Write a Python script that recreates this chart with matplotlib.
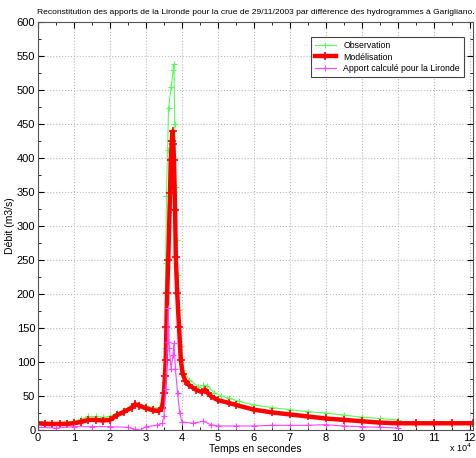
# coding=utf-8
import numpy as np
import matplotlib
matplotlib.use('Agg')
import matplotlib.pyplot as plt
from matplotlib.ticker import MultipleLocator

plt.rcParams['font.family'] = ['Liberation Sans', 'DejaVu Sans']

# temps en 1e4 secondes, debits en m3/s
t_obs = [0, 0.2, 0.4, 0.6, 0.8, 1.0, 1.2, 1.4, 1.6, 1.8, 2.0, 2.2, 2.4, 2.6, 2.7, 2.8,
         3.0, 3.2, 3.35, 3.45, 3.5, 3.53, 3.55, 3.57, 3.6, 3.63, 3.7, 3.76, 3.78, 3.8,
         3.83, 3.85, 3.88, 3.92, 3.97, 4.03, 4.2, 4.45, 4.6, 4.7, 4.9, 5.1, 5.3, 5.6,
         6.0, 6.5, 7.0, 7.5, 8.0, 8.5, 9.0, 9.5, 10.0]
q_obs = [12, 12, 11, 11, 12, 13, 16, 20, 20, 19, 20, 25, 30, 35, 40, 38,
         35, 33, 32, 40, 70, 120, 246, 344, 412, 474, 505, 530, 538, 450,
         358, 280, 228, 176, 123, 88, 74, 64, 66, 65, 55, 50, 47, 42,
         37, 33, 30, 27, 25, 22, 19, 17, 15]

t_mod = [0, 0.2, 0.4, 0.6, 0.8, 1.0, 1.2, 1.4, 1.6, 1.8, 2.0, 2.2, 2.4, 2.6, 2.7, 2.8,
         3.0, 3.2, 3.35, 3.45, 3.5, 3.53, 3.55, 3.57, 3.59, 3.62, 3.67, 3.69, 3.72, 3.74,
         3.76, 3.78, 3.81, 3.83, 3.87, 3.92, 3.97, 4.02, 4.1, 4.2, 4.4, 4.55, 4.65, 4.8,
         5.0, 5.3, 5.5, 6.0, 6.5, 7.0, 7.5, 8.0, 8.5, 9.0, 9.5, 10.0, 10.5, 11.0, 11.5, 12.1]
q_mod = [10, 9, 9, 9, 9, 10, 12, 15, 15, 14, 15, 22, 27, 33, 38, 36,
         32, 29, 28, 33, 54, 80, 103, 152, 201, 250, 348, 397, 425, 439,
         420, 397, 324, 255, 201, 152, 103, 83, 72, 66, 59, 56, 59, 50,
         44, 40, 37, 30, 26, 23, 20, 17, 15, 13, 11, 10, 10, 10, 10, 10]

t_app = [0, 0.5, 1.0, 1.5, 2.0, 2.5, 2.7, 2.85, 3.0, 3.3, 3.45, 3.5, 3.55, 3.6, 3.62,
         3.65, 3.7, 3.75, 3.78, 3.82, 3.88, 3.94, 4.0, 4.3, 4.6, 4.8, 5.0, 5.5, 6.0,
         6.5, 7.0, 7.5, 8.0, 8.5, 9.0, 9.5, 10.0]
q_app = [4, 3, 5, 5, 5, 4, 1, 0, 5, 7, 10, 20, 60, 130, 179,
         120, 90, 110, 128, 90, 54, 25, 12, 10, 13, 8, 6, 6, 6,
         7, 7, 7, 8, 6, 5, 4, 3]

fig = plt.figure(figsize=(4.76, 4.58), dpi=100)
ax = fig.add_axes([0.08, 0.061, 0.914, 0.891])

ax.plot(np.array(t_obs) * 1e4, q_obs, color='#55ff55', lw=0.8, marker='+', ms=4,
        mew=0.8, label='Observation')
ax.plot(np.array(t_mod) * 1e4, q_mod, color='#ff0000', lw=3.2, marker='+', ms=6,
        mew=1.2, label='Modélisation')
ax.plot(np.array(t_app) * 1e4, q_app, color='#ff44ff', lw=0.8, marker='+', ms=4,
        mew=0.8, label='Apport calculé pour la Lironde')

ax.set_ylim(0, 600)
ax.xaxis.set_minor_locator(MultipleLocator(5000))
ax.yaxis.set_major_locator(MultipleLocator(50))
ax.yaxis.set_minor_locator(MultipleLocator(25))
ax.set_xticks(np.arange(0, 13) * 1e4)
ax.set_xticklabels([str(i) for i in range(13)])
ax.set_xlim(0, 121000)
ax.tick_params(which='both', direction='in', top=True, right=True, labelsize=8, pad=2)
ax.tick_params(which='major', length=4)
ax.tick_params(which='minor', length=2)
ax.grid(True, which='major', ls=':', color='#bbbbbb', lw=0.8)
for s in ax.spines.values():
    s.set_color('#555555')
    s.set_linewidth(0.8)

ax.set_title('Reconstitution des apports de la Lironde pour la crue de 29/11/2003 par différence des hydrogrammes à Garigliano.',
             fontsize=6.1, pad=6)
ax.set_xlabel('Temps en secondes', fontsize=7.5, labelpad=1)
ax.set_ylabel('Débit (m3/s)', fontsize=7.5)
ax.yaxis.set_label_coords(-0.053, 0.5)
fig.text(0.992, 0.008, 'x 10$^4$', fontsize=6.5, ha='right', va='bottom')

leg = ax.legend(loc='upper right', fontsize=6.3, fancybox=False, framealpha=1,
                edgecolor='#444444', handlelength=2.5, borderaxespad=0.6,
                labelspacing=0.3)
leg.get_frame().set_linewidth(0.8)
leg.set_bbox_to_anchor((0.99, 0.975), transform=ax.transAxes)

fig.savefig('out.png', dpi=100)
